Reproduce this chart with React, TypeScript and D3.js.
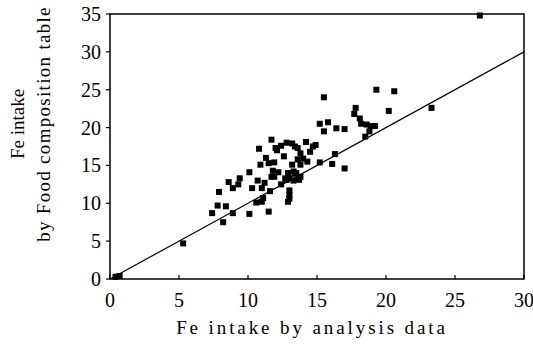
import * as d3 from "d3";

// Fe intake by analysis data (x) vs by food composition table (y)
const analysis = [
  26.8, 23.3, 19.3, 20.6, 20.2, 15.5, 17.8, 17.7, 18.1, 18.2, 18.6, 18.9, 19.2, 18.8, 18.5,
  15.2, 15.8, 15.5, 16.4, 17.0, 16.3, 16.1, 17.0, 15.2, 14.9, 14.5, 14.2, 14.0, 13.6, 13.4,
  13.2, 12.8, 12.4, 12.0, 11.7, 10.8, 12.6, 11.3, 11.5, 11.9, 10.9, 10.1, 13.2, 11.8, 12.2,
  12.9, 13.4, 11.7, 12.7, 13.0, 13.3, 13.7, 10.7, 11.2, 12.4, 9.4, 8.6, 9.3, 8.9, 10.3,
  11.0, 11.6, 13.0, 13.0, 7.9, 11.1, 11.0, 10.6, 13.0, 12.9, 7.8, 8.4, 7.4, 8.9, 10.1,
  11.5, 8.2, 5.3, 0.7, 0.4, 12.1, 13.6, 13.8, 14.7, 14.3, 13.8, 12.8, 13.3, 13.5, 13.8, 11.9,
];
const foodTable = [
  34.8, 22.6, 25.0, 24.8, 22.2, 24.0, 22.6, 21.8, 21.2, 20.5, 20.4, 20.2, 20.2, 19.5, 18.8,
  20.5, 20.7, 19.5, 19.9, 19.8, 16.5, 15.2, 14.6, 15.4, 17.7, 16.8, 18.1, 15.9, 15.8, 17.5,
  17.9, 18.0, 17.6, 17.3, 18.4, 17.2, 16.2, 16.0, 15.3, 15.4, 15.1, 14.1, 15.1, 14.3, 14.1,
  14.0, 13.9, 13.5, 13.3, 13.3, 13.0, 13.1, 13.0, 12.7, 12.5, 13.3, 12.8, 12.5, 12.0, 12.0,
  12.0, 11.6, 11.7, 11.1, 11.5, 10.7, 10.2, 10.1, 10.6, 10.2, 9.7, 9.6, 8.7, 8.7, 8.6,
  8.9, 7.5, 4.7, 0.4, 0.3, 17.0, 17.3, 16.6, 17.5, 15.5, 15.1, 13.1, 14.2, 14.0, 13.5, 13.5,
];
const xTicks = [0, 5, 10, 15, 20, 25, 30];
const yTicks = [0, 5, 10, 15, 20, 25, 30, 35];
const lineEnds = [0, 30];

const W = 533;
const H = 355;
const left = 110;
const right = 524;
const top = 14;
const bottom = 279;
const font = "'Liberation Serif', 'Times New Roman', serif";

export default function App() {
  const x = d3.scaleLinear().domain([0, 30]).range([left, right]);
  const y = d3.scaleLinear().domain([0, 35]).range([bottom, top]);
  const line = d3
    .line<number>()
    .x((d) => x(d))
    .y((d) => y(d));
  const s = 6;

  return (
    <svg
      width={W}
      height={H}
      style={{ position: "absolute", left: 0, top: 0, background: "#fff" }}
      fontFamily={font}
    >
      <rect
        x={left}
        y={top}
        width={right - left}
        height={bottom - top}
        fill="none"
        stroke="#000"
        strokeWidth={1.5}
      />
      {xTicks.map((t) => (
        <g key={"x" + t}>
          <line x1={x(t)} x2={x(t)} y1={bottom} y2={bottom - 4} stroke="#000" strokeWidth={1.2} />
          <text x={x(t)} y={307} fontSize={20} textAnchor="middle" fill="#000">
            {t}
          </text>
        </g>
      ))}
      {yTicks.map((t) => (
        <g key={"y" + t}>
          <line x1={left} x2={left - 4} y1={y(t)} y2={y(t)} stroke="#000" strokeWidth={1.2} />
          <text x={101} y={y(t) + 7} fontSize={20} textAnchor="end" fill="#000">
            {t}
          </text>
        </g>
      ))}
      <path d={line(lineEnds) ?? ""} fill="none" stroke="#000" strokeWidth={1.2} />
      {analysis.map((a, i) => (
        <rect
          key={i}
          x={x(a) - s / 2}
          y={y(foodTable[i]) - s / 2}
          width={s}
          height={s}
          fill="#000"
        />
      ))}
      <text
        x={312}
        y={334}
        fontSize={19}
        textAnchor="middle"
        letterSpacing={2.9}
        fill="#000"
      >
        Fe intake by analysis data
      </text>
      <g transform="translate(24,124) rotate(-90)">
        <text x={0} y={0} fontSize={19} textAnchor="middle" fill="#000">
          Fe intake
        </text>
        <text x={0} y={26} fontSize={19} textAnchor="middle" letterSpacing={1.3} fill="#000">
          by Food composition table
        </text>
      </g>
    </svg>
  );
}
